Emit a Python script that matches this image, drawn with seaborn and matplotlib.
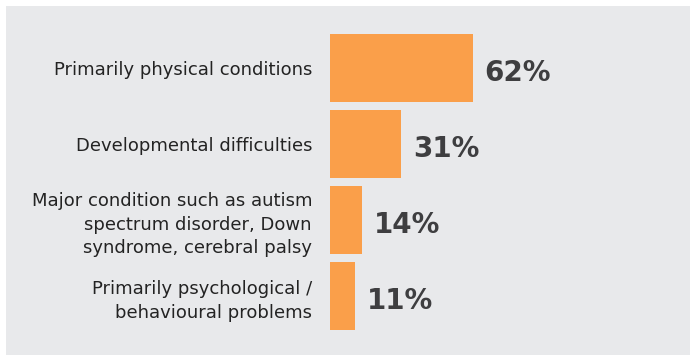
import matplotlib
matplotlib.use("Agg")
import matplotlib.pyplot as plt
from matplotlib.patches import Rectangle
import seaborn as sns
import pandas as pd

categories = [
    "Primarily physical conditions",
    "Developmental difficulties",
    "Major condition such as autism\nspectrum disorder, Down\nsyndrome, cerebral palsy",
    "Primarily psychological /\nbehavioural problems",
]
values = [62, 31, 14, 11]
value_labels = ["62%", "31%", "14%", "11%"]

BAR_COLOR = "#FA9F4A"
PANEL_COLOR = "#E8E9EB"
LABEL_COLOR = "#232323"
VALUE_COLOR = "#3E3E40"

sns.set_theme(style="white")
plt.rcParams["font.family"] = ["DejaVu Sans"]

W, H, DPI = 690, 355, 100
fig = plt.figure(figsize=(W / DPI, H / DPI), dpi=DPI, facecolor="white")

# grey panel behind the chart
fig.patches.append(Rectangle((6 / W, -0.05), 1.1, 1.05 - 6 / H,
                             transform=fig.transFigure, facecolor=PANEL_COLOR,
                             edgecolor="none", zorder=-5))

ax = fig.add_axes([330 / W, 0, (W - 330) / W, 1])
ax.set_facecolor("none")
ax.set_zorder(1)

df = pd.DataFrame({"category": categories, "value": values})
sns.barplot(data=df, x="value", y="category", color=BAR_COLOR, saturation=1,
            width=0.9, linewidth=0, edgecolor="none", ax=ax)

px_per_unit = 2.3
ax.set_xlim(0, (W - 330) / px_per_unit)
ax.set_ylim((H - 68) / 76, -68 / 76)

for i, (v, lab) in enumerate(zip(values, value_labels)):
    ax.annotate(lab, xy=(v, i), xytext=(12 * 0.72, -3.5), textcoords="offset points",
                ha="left", va="center", fontsize=20, fontweight="bold",
                color=VALUE_COLOR)

ax.set_xlabel("")
ax.set_ylabel("")
ax.set_xticks([])
ax.tick_params(axis="y", length=0, pad=18 * 0.72)
for t in ax.get_yticklabels():
    t.set_fontsize(13)
    t.set_color(LABEL_COLOR)
    t.set_linespacing(1.4)
for s in ax.spines.values():
    s.set_visible(False)

fig.savefig("out.png", dpi=DPI, facecolor="white")
